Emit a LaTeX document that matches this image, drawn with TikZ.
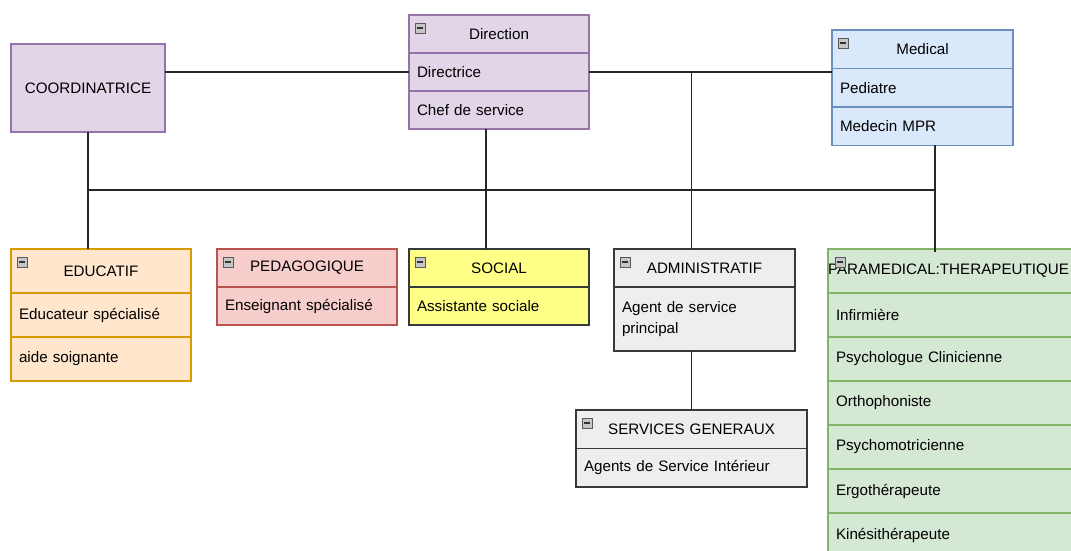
\documentclass[tikz,border=0pt]{standalone}
\usepackage{fontspec}
\setmainfont{Liberation Sans}
\usepackage{tikz}
\usetikzlibrary{positioning,calc}
\definecolor{purplefill}{HTML}{E1D5E7}
\definecolor{purpleline}{HTML}{9673A6}
\definecolor{bluefill}{HTML}{DAE8FC}
\definecolor{blueline}{HTML}{6C8EBF}
\definecolor{orangefill}{HTML}{FFE6CC}
\definecolor{orangeline}{HTML}{D79B00}
\definecolor{redfill}{HTML}{F8CECC}
\definecolor{redline}{HTML}{B85450}
\definecolor{yellowfill}{HTML}{FFFF88}
\definecolor{grayfill}{HTML}{EEEEEE}
\definecolor{darkline}{HTML}{36393D}
\definecolor{greenfill}{HTML}{D5E8D4}
\definecolor{greenline}{HTML}{82B366}
\tikzset{
    unit/.style={
        rectangle,
        line width=1pt,
        outer sep=0pt,
        inner xsep=0.2cm,
        inner ysep=0pt
    },
    head/.style={unit, align=center},
    item/.style={unit, align=left},
    purplebox/.style={fill=purplefill, draw=purpleline},
    bluebox/.style={fill=bluefill, draw=blueline},
    orangebox/.style={fill=orangefill, draw=orangeline},
    redbox/.style={fill=redfill, draw=redline},
    yellowbox/.style={fill=yellowfill, draw=darkline},
    graybox/.style={fill=grayfill, draw=darkline},
    greenbox/.style={fill=greenfill, draw=greenline},
    collapse/.style={
        rectangle,
        draw=gray!70!black,
        fill=gray!45,
        line width=0.4pt,
        minimum size=0.24cm,
        inner sep=0pt,
        path picture={\draw[line width=1.2pt, black!80]
            ([xshift=0.04cm]path picture bounding box.west) --
            ([xshift=-0.04cm]path picture bounding box.east);}
    },
    link/.style={
        draw=black!85,
        line width=1pt
    }
}
\newcommand{\collapsebox}[1]{%
    \node[collapse, anchor=north west] (#1-icon) at ($(#1-title.north west)+(6,8)$) {};}

\begin{document}
\begin{tikzpicture}[x=0.025cm, y=-0.025cm, node distance=0cm, font=\fontsize{10.8}{15}\selectfont]
\useasboundingbox (0,0) rectangle (1071,551);
\clip (0,0) rectangle (1071,551);

% COORDINATRICE
\node[unit, purplebox, minimum width=3.85cm, minimum height=2.2cm, anchor=north west] (coord) at (11,44) {COORDINATRICE};

% Direction
\node[head, purplebox, text width=4.1cm, minimum height=0.95cm, anchor=north west] (dir-title) at (409,15) {Direction};
\node[item, purplebox, text width=4.1cm, minimum height=0.95cm, below=of dir-title] (dir-r1) {Directrice};
\node[item, purplebox, text width=4.1cm, minimum height=0.95cm, below=of dir-r1] (dir-r2) {Chef de service};
\collapsebox{dir}

% Medical
\node[head, bluebox, text width=4.125cm, minimum height=0.96cm, anchor=north west] (med-title) at (832,30) {Medical};
\node[item, bluebox, text width=4.125cm, minimum height=0.96cm, below=of med-title] (med-r1) {Pediatre};
\node[item, bluebox, text width=4.125cm, minimum height=0.96cm, below=of med-r1] (med-r2) {Medecin MPR};
\collapsebox{med}

% EDUCATIF
\node[head, orangebox, text width=4.1cm, minimum height=1.1cm, anchor=north west] (educ-title) at (11,249) {EDUCATIF};
\node[item, orangebox, text width=4.1cm, minimum height=1.1cm, below=of educ-title] (educ-r1) {Educateur spécialisé};
\node[item, orangebox, text width=4.1cm, minimum height=1.1cm, below=of educ-r1] (educ-r2) {aide soignante};
\collapsebox{educ}

% PEDAGOGIQUE
\node[head, redbox, text width=4.1cm, minimum height=0.95cm, anchor=north west] (peda-title) at (217,249) {PEDAGOGIQUE};
\node[item, redbox, text width=4.1cm, minimum height=0.95cm, below=of peda-title] (peda-r1) {Enseignant spécialisé};
\collapsebox{peda}

% SOCIAL
\node[head, yellowbox, text width=4.1cm, minimum height=0.95cm, anchor=north west] (social-title) at (409,249) {SOCIAL};
\node[item, yellowbox, text width=4.1cm, minimum height=0.95cm, below=of social-title] (social-r1) {Assistante sociale};
\collapsebox{social}

% ADMINISTRATIF
\node[head, graybox, text width=4.125cm, minimum height=0.95cm, anchor=north west] (adm-title) at (614,249) {ADMINISTRATIF};
\node[item, graybox, text width=4.125cm, minimum height=1.6cm, below=of adm-title] (adm-r1) {Agent de service\\principal};
\collapsebox{adm}

% SERVICES GENERAUX
\node[head, graybox, text width=5.375cm, minimum height=0.96cm, anchor=north west] (serv-title) at (576,410) {SERVICES GENERAUX};
\node[item, graybox, text width=5.375cm, minimum height=0.96cm, below=of serv-title] (serv-r1) {Agents de Service Intérieur};
\collapsebox{serv}

% PARAMEDICAL
\node[item, greenbox, inner xsep=0pt, text width=7cm, minimum height=1.1cm, anchor=north west] (para-title) at (828,249) {PARAMEDICAL:THERAPEUTIQUE};
\node[item, greenbox, text width=6.6cm, minimum height=1.1cm, below=of para-title] (para-r1) {Infirmière};
\node[item, greenbox, text width=6.6cm, minimum height=1.1cm, below=of para-r1] (para-r2) {Psychologue Clinicienne};
\node[item, greenbox, text width=6.6cm, minimum height=1.1cm, below=of para-r2] (para-r3) {Orthophoniste};
\node[item, greenbox, text width=6.6cm, minimum height=1.1cm, below=of para-r3] (para-r4) {Psychomotricienne};
\node[item, greenbox, text width=6.6cm, minimum height=1.1cm, below=of para-r4] (para-r5) {Ergothérapeute};
\node[item, greenbox, text width=6.6cm, minimum height=1.1cm, below=of para-r5] (para-r6) {Kinésithérapeute};
\node[collapse, anchor=north west] (para-icon) at ($(para-title.north west)+(7,8)$) {};

% links
\coordinate (bus) at (0,190);
\coordinate (dir-tail) at ($(dir-r2.south)+(-13,0)$);
\coordinate (med-tail) at ($(med-r2.south)+(12.5,0)$);
\draw[link] (dir-r1.west) -- (dir-r1.west -| coord.east);
\draw[link] (dir-r1.east) -- (dir-r1.east -| med-r1.west);
\draw[link] (coord.south) -- (coord.south |- educ-title.north);
\draw[link] (coord.south |- bus) -- (med-tail |- bus);
\draw[link] (dir-tail) -- (dir-tail |- social-title.north);
\draw[link] (med-tail) -- ($(med-tail |- para-title.north)+(0,3)$);
\draw[link] (dir-r1.east -| serv-title.north) -- (adm-title.north -| serv-title.north);
\draw[link] (adm-r1.south -| serv-title.north) -- (serv-title.north);
\end{tikzpicture}
\end{document}
